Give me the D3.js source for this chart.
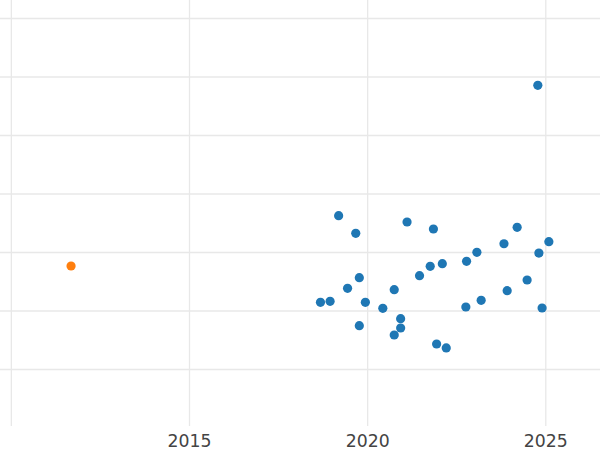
<!DOCTYPE html>
<html>
<head>
<meta charset="utf-8">
<script src="https://cdn.jsdelivr.net/npm/d3@7"></script>
<style>
  html, body { margin: 0; padding: 0; background: #fff; }
  svg { display: block; }
</style>
</head>
<body>
<svg id="chart" width="600" height="450"></svg>
<script>
// ---- data ----
const blueYears = [2019.20, 2019.68, 2021.12, 2021.86, 2024.21, 2025.10, 2023.84, 2024.82,
  2023.08, 2022.79, 2022.11, 2021.77, 2021.47, 2019.78, 2024.49, 2019.45, 2020.76, 2023.93,
  2018.69, 2018.96, 2019.95, 2023.20, 2020.44, 2022.77, 2024.91, 2020.94, 2019.78, 2020.94,
  2020.76, 2021.95, 2022.22, 2024.79];
const blueValues = [36.29, 33.28, 35.21, 34.02, 34.31, 31.85, 31.50, 29.91,
  30.03, 28.50, 28.09, 27.64, 26.03, 25.69, 25.30, 23.88, 23.64, 23.47,
  21.49, 21.66, 21.49, 21.83, 20.46, 20.68, 20.51, 18.68, 17.49, 17.09,
  15.90, 14.36, 13.68, 58.58];
const orangeYears = [2011.69];
const orangeValues = [27.69];
const xTickValues = [2010, 2015, 2020, 2025];
const xTickLabels = ["", "2015", "2020", "2025"];
const yGridValues = [10, 20, 30, 40, 50, 60, 70];

// ---- layout ----
const W = 600, H = 450;
const plotBottom = 426;
const svg = d3.select("#chart");

const x = d3.scaleLinear().domain([2010, 2025]).range([10.85, 545.3]);
const y = d3.scaleLinear().domain([10, 70]).range([369.5, 18.5]);

// horizontal gridlines
svg.append("g")
  .selectAll("line")
  .data(yGridValues)
  .join("line")
  .attr("x1", 0).attr("x2", W)
  .attr("y1", d => y(d)).attr("y2", d => y(d))
  .attr("stroke", "#e8e8e8")
  .attr("stroke-width", 1.3);

// x axis (gridlines + labels)
const xAxis = d3.axisBottom(x)
  .tickValues(xTickValues)
  .tickSize(plotBottom)
  .tickPadding(9)
  .tickFormat((d, i) => xTickLabels[i]);

const gx = svg.append("g").call(xAxis);
gx.select(".domain").remove();
gx.selectAll(".tick line").attr("stroke", "#e8e8e8").attr("stroke-width", 1.3);
gx.selectAll(".tick text")
  .attr("fill", "#444")
  .attr("font-family", "DejaVu Sans, sans-serif")
  .attr("font-size", 17.3);

// points
const blue = blueYears.map((d, i) => ({ year: d, value: blueValues[i] }));
const orange = orangeYears.map((d, i) => ({ year: d, value: orangeValues[i] }));

svg.append("g")
  .selectAll("circle")
  .data(blue)
  .join("circle")
  .attr("cx", d => x(d.year))
  .attr("cy", d => y(d.value))
  .attr("r", 4.6)
  .attr("fill", "#1f77b4");

svg.append("g")
  .selectAll("circle")
  .data(orange)
  .join("circle")
  .attr("cx", d => x(d.year))
  .attr("cy", d => y(d.value))
  .attr("r", 4.6)
  .attr("fill", "#ff7f0e");
</script>
</body>
</html>
